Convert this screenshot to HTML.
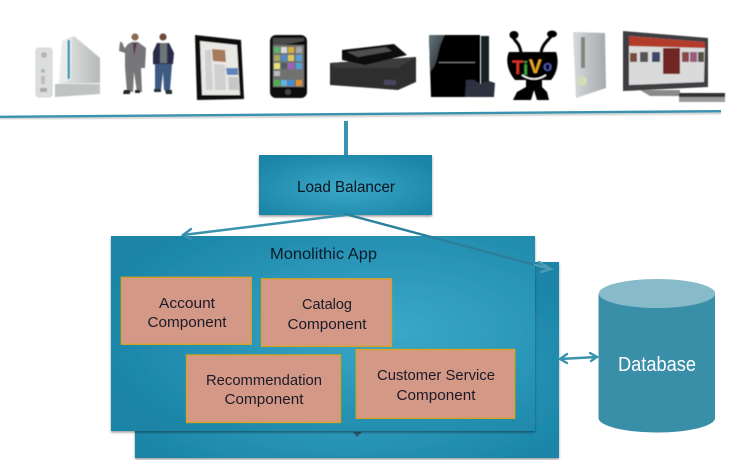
<!DOCTYPE html>
<html>
<head>
<meta charset="utf-8">
<style>
html,body{margin:0;padding:0;background:#fff;width:735px;height:460px;overflow:hidden}
svg{display:block}
text{font-family:"Liberation Sans",sans-serif}
</style>
</head>
<body>
<svg width="735" height="460" viewBox="0 0 735 460" xmlns="http://www.w3.org/2000/svg">
<defs>
<radialGradient id="g" cx="50%" cy="55%" r="62%"><stop offset="0" stop-color="#3ba8c8"/><stop offset="1" stop-color="#1b85a7"/></radialGradient>
<radialGradient id="g2" cx="66%" cy="48%" r="70%"><stop offset="0" stop-color="#3ba8c8"/><stop offset="1" stop-color="#1b85a7"/></radialGradient>
<filter id="s" x="-5%" y="-5%" width="110%" height="112%"><feDropShadow dx="0" dy="1.500" stdDeviation="1.200" flood-color="#000" flood-opacity=".4"/></filter>
<filter id="b" x="-10%" y="-10%" width="120%" height="120%"><feGaussianBlur stdDeviation=".45"/></filter>
<linearGradient id="wii" x1="0" x2="1"><stop offset="0" stop-color="#e6e8e7"/><stop offset="1" stop-color="#b4b9b8"/></linearGradient>
<linearGradient id="xb" x1="0" x2="1"><stop offset="0" stop-color="#d6d9db"/><stop offset="1" stop-color="#a4a9ad"/></linearGradient>
<linearGradient id="pg" x1="0" x2="1" y1="0" y2="1"><stop offset="0" stop-color="#66757d"/><stop offset="1" stop-color="#1c2226"/></linearGradient>
</defs>

<!-- devices -->
<g filter="url(#b)">
<!-- Wii -->
<rect x="36" y="48" width="16" height="49" rx="3" fill="#dcdedd" stroke="#bfc2c1" stroke-width=".6"/>
<circle cx="44" cy="55" r="3" fill="#b4b6b6"/><circle cx="43" cy="71" r="2" fill="#a9b4b8"/><rect x="41" y="76" width="4" height="8" fill="#bcbebe"/><rect x="40" y="88" width="7" height="4" fill="#a8aaaa"/>
<path d="M62 41 74 36 100 58V83L60 84Z" fill="url(#wii)"/>
<path d="M62 41 72 38 71 80 59 84Z" fill="#e9ebea"/>
<rect x="67.500" y="40" width="2.500" height="39" fill="#2f9cb4"/>
<path d="M55 84 100 84V94L55 97Z" fill="#bfc3c2"/>
<!-- men -->
<circle cx="135" cy="37" r="3.600" fill="#8a6a54"/>
<path d="M125 48 128 44 132 42H138L146 48 145 68H141L142 92H137L134 72 133 92H127L125 67 125 53 119 51 120 42 122 42 124 47Z" fill="#77777a"/>
<path d="M133 43H137L134 56Z" fill="#5d3350"/>
<path d="M124 90H130V94H123ZM135 90H140V93H135Z" fill="#222"/>
<circle cx="163" cy="37" r="3.600" fill="#6c4a38"/>
<path d="M153 52 157 43H169L174 53 173 64 168 65 167 70H158L157 65 153 64Z" fill="#2c2a4a"/>
<path d="M160 43H167V63H160Z" fill="#6e7478"/>
<path d="M155 64H172L170 90H164L163 72 161 90H155Z" fill="#3c5a82"/>
<path d="M154 89H161V92H154ZM165 90H172L172 94H166Z" fill="#233"/>
<!-- iPad -->
<path d="M195 35 241 40 244 99 197 100Z" fill="#0c0c0c"/>
<path d="M200 41 237 45 240 95 202 95Z" fill="#e9e8e5"/>
<path d="M212 49 225 50 226 62 213 61Z" fill="#a87a5c"/>
<path d="M226 68 238 68 238 75 227 75Z" fill="#5d86b8"/>
<path d="M205 50 211 50 213 90 206 90Z" fill="#cfd0d2"/>
<path d="M214 64 225 65 226 90 215 90Z" fill="#d0d0d0"/>
<path d="M228 77 238 77 239 90 229 90Z" fill="#c6c6c6"/>
<!-- iPhone -->
<rect x="270" y="35" width="37" height="63" rx="6" fill="#0d0d0d"/>
<path d="M273 38H304V41L273 47Z" fill="#4a4a4a"/>
<rect x="273" y="45" width="31" height="42" fill="#6f7270"/>
<g>
<rect x="274" y="47" width="6" height="6" fill="#5fb36a"/><rect x="281" y="47" width="6" height="6" fill="#d8d8d8"/><rect x="288" y="47" width="6" height="6" fill="#d4b03a"/><rect x="296" y="47" width="6" height="6" fill="#a8a8a8"/>
<rect x="274" y="55" width="6" height="6" fill="#a8a860"/><rect x="281" y="55" width="6" height="6" fill="#4d8ac8"/><rect x="288" y="55" width="6" height="6" fill="#e0c860"/><rect x="296" y="55" width="6" height="6" fill="#5aa0d8"/>
<rect x="274" y="63" width="6" height="6" fill="#e4e080"/><rect x="281" y="63" width="6" height="6" fill="#555a60"/><rect x="288" y="63" width="6" height="6" fill="#a060c0"/><rect x="296" y="63" width="6" height="6" fill="#50a0d8"/>
<rect x="274" y="71" width="6" height="5" fill="#bbb"/>
<rect x="274" y="80" width="6" height="6" fill="#50b050"/><rect x="281" y="80" width="6" height="6" fill="#60b0e0"/><rect x="288" y="80" width="6" height="6" fill="#4090d8"/><rect x="296" y="80" width="6" height="6" fill="#e09030"/>
</g>
<circle cx="288" cy="92" r="3" fill="#444"/>
<!-- Roku -->
<path d="M330 63 416 57 416 82 398 90 330 85Z" fill="#2e2e2e"/>
<path d="M330 63 416 57 398 68 335 68Z" fill="#3c3c3c"/>
<path d="M342 50 394 44 407 55 365 65 342 60Z" fill="#0e0e0e"/>
<path d="M347 52 386 47 392 51 358 57Z" fill="#505050"/>
<rect x="384" y="80" width="12" height="5" fill="#4a4560"/>
<!-- PS3 -->
<path d="M429 35H480V97H431Z" fill="#050505"/>
<path d="M429 35H445C436 50 440 62 430 72Z" fill="url(#pg)"/>
<rect x="481" y="36" width="8" height="48" fill="#182228"/>
<rect x="439" y="62" width="36" height="1" fill="#777"/>
<path d="M466 80 474 80 480 84 489 81 495 83 494 97H465Z" fill="#2e3340"/>
<!-- TiVo -->
<path d="M521 52 C519 42 515 42 513 37 M541 52 C543 43 549 40 552 35" fill="none" stroke="#000" stroke-width="3"/>
<ellipse cx="514" cy="35" rx="4.500" ry="4" fill="#000"/><ellipse cx="552" cy="34" rx="5" ry="3.500" fill="#000"/>
<path d="M509 52H556C559 60 558 72 551 80H515C508 72 505 60 509 52Z" fill="#000"/>
<path d="M526 80H542V87L547 92 549 100H537L534 90 531 100H513L517 92 526 87Z" fill="#000"/>
<text x="512" y="74" font-size="19" font-weight="700" fill="#d8332c">T</text>
<text x="523" y="75" font-size="19" font-weight="700" fill="#3ca33f">i</text>
<text x="529" y="73" font-size="19" font-weight="700" fill="#e8a624">V</text>
<text x="543" y="71" font-size="15" font-weight="700" fill="#4a55a8">o</text>
<path d="M522 75Q534 83 546 75" fill="none" stroke="#fff" stroke-width="1.500"/>
<!-- Xbox -->
<path d="M573 32 605 33 606 88 576 98Z" fill="url(#xb)"/>
<rect x="581" y="37" width="4" height="31" fill="#85857c"/>
<circle cx="582" cy="81" r="5" fill="#d5dcb8"/>
<!-- TV -->
<path d="M623 31 708 38 708 87 623 91Z" fill="#3e3e42"/>
<path d="M629 36 705 42 704 82 629 85Z" fill="#dadada"/>
<path d="M629 36 705 42 705 48 629 46Z" fill="#b33a2c"/>
<rect x="630" y="53" width="7" height="9" fill="#7a4b3c"/><rect x="640" y="52" width="8" height="10" fill="#555"/><rect x="652" y="52" width="8" height="10" fill="#3c4a6a"/>
<rect x="663" y="48" width="17" height="26" fill="#702620"/>
<rect x="682" y="52" width="7" height="10" fill="#8a4a4a"/><rect x="690" y="52" width="7" height="10" fill="#9a5a7a"/><rect x="698" y="52" width="6" height="10" fill="#554"/>
<path d="M640 90H680V96L650 96Z" fill="#8a8a8a"/>
<rect x="679" y="93" width="46" height="4" fill="#333"/>
<rect x="679" y="97" width="46" height="5" fill="#9a9a9a"/>
</g>

<!-- top line -->
<path d="M0 118.500 721 113" stroke="#999" stroke-opacity=".4" stroke-width="3" filter="url(#b)"/>
<path d="M0 116.800 721 111.200" stroke="#3a93ae" stroke-width="2.400"/>
<rect x="344" y="121" width="4" height="35" fill="#3a93ae"/>

<!-- back app -->
<rect x="135" y="262" width="424" height="196" fill="url(#g)" filter="url(#s)"/>
<path d="M353 432H362L357 437Z" fill="#2a5a6c"/>
<!-- front app -->
<rect x="111" y="236" width="424" height="195" fill="url(#g2)" filter="url(#s)"/>

<!-- load balancer -->
<rect x="259" y="155" width="173" height="60" fill="url(#g)" filter="url(#s)"/>
<text x="346" y="192" font-size="15.500" text-anchor="middle" textLength="98" lengthAdjust="spacingAndGlyphs" fill="#0c1420">Load Balancer</text>

<!-- arrows -->
<g stroke="#3a93ae" stroke-width="2.400" fill="none" stroke-linecap="round">
<path d="M345 215 183 235"/>
<path d="M191 229 183 235 191 239"/>
<path d="M345 214 535 264.800" stroke="#2b7f9b"/>
<path d="M535 264.800 550 268.800" stroke="#4c9cb6"/>
<path d="M539 262 551 269 541 272" stroke="#4c9cb6"/>
<path d="M560 359 597 357"/>
<path d="M567 354 560 359 567 363"/>
<path d="M590 353 597 357 591 361"/>
</g>

<text x="323.500" y="259" font-size="16" text-anchor="middle" textLength="107" lengthAdjust="spacingAndGlyphs" fill="#0c1a2c">Monolithic App</text>

<!-- components -->
<g fill="#d39886" stroke="#dba21e" stroke-width="1.300">
<rect x="121.300" y="277.300" width="130" height="67"/>
<rect x="261.500" y="278.800" width="130" height="67.500"/>
<rect x="186.500" y="355" width="154" height="67.500"/>
<rect x="356.200" y="349.500" width="158.500" height="68.800"/>
</g>
<g font-size="14.500" text-anchor="middle" fill="#1c1a28">
<text x="187" y="308" textLength="56" lengthAdjust="spacingAndGlyphs">Account</text>
<text x="187" y="327" textLength="79" lengthAdjust="spacingAndGlyphs">Component</text>
<text x="327" y="309" textLength="50" lengthAdjust="spacingAndGlyphs">Catalog</text>
<text x="327" y="329" textLength="79" lengthAdjust="spacingAndGlyphs">Component</text>
<text x="264" y="385" textLength="116" lengthAdjust="spacingAndGlyphs">Recommendation</text>
<text x="264" y="404" textLength="79" lengthAdjust="spacingAndGlyphs">Component</text>
<text x="436" y="380" textLength="118" lengthAdjust="spacingAndGlyphs">Customer Service</text>
<text x="436" y="400" textLength="79" lengthAdjust="spacingAndGlyphs">Component</text>
</g>

<!-- database -->
<path d="M598.500 294V418C598.500 426 625 432.500 657 432.500S715 426 715 418V294Z" fill="#3a8fa8"/>
<ellipse cx="657" cy="293.500" rx="58.200" ry="14.500" fill="#87bbca"/>
<text x="657" y="371" font-size="20.500" text-anchor="middle" textLength="78" lengthAdjust="spacingAndGlyphs" fill="#fff">Database</text>
</svg>
</body>
</html>
